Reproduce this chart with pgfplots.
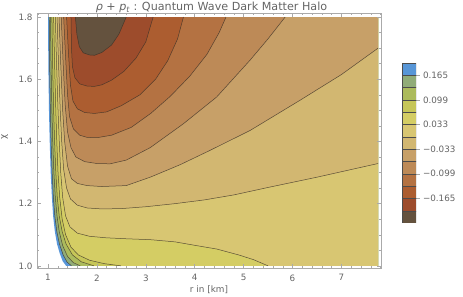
\documentclass[border=0pt]{standalone}
\usepackage{pgfplots}
\pgfplotsset{compat=1.18}
\usepackage{pgfplotstable}
\usepackage{fontspec}
\setmainfont{DejaVu Sans}

\definecolor{c1}{RGB}{88,150,215}
\definecolor{c2}{RGB}{145,172,120}
\definecolor{c3}{RGB}{172,187,92}
\definecolor{c4}{RGB}{198,198,88}
\definecolor{c5}{RGB}{212,205,100}
\definecolor{c6}{RGB}{216,198,114}
\definecolor{c7}{RGB}{210,183,113}
\definecolor{c8}{RGB}{199,160,104}
\definecolor{c9}{RGB}{189,138,87}
\definecolor{c10}{RGB}{180,114,66}
\definecolor{c11}{RGB}{172,93,48}
\definecolor{c12}{RGB}{157,76,44}
\definecolor{c13}{RGB}{100,82,62}
\definecolor{labgray}{RGB}{100,100,100}
\definecolor{framegray}{RGB}{170,170,170}
\definecolor{cline}{RGB}{60,50,40}

% domain edge (left boundary of the plotted region)
\pgfplotstableread{
r chi
1.000 1.80
1.007 1.65
1.020 1.50
1.035 1.40
1.055 1.30
1.080 1.22
1.105 1.16
1.140 1.11
1.185 1.07
1.240 1.04
1.300 1.015
1.370 1.00
}\W
\pgfplotstableread{
r chi
1.025 1.80
1.033 1.65
1.048 1.50
1.063 1.40
1.085 1.30
1.110 1.22
1.140 1.16
1.180 1.11
1.235 1.07
1.310 1.035
1.390 1.012
1.480 1.00
}\Cpa
\pgfplotstableread{
r chi
1.050 1.80
1.062 1.65
1.080 1.50
1.097 1.40
1.120 1.30
1.150 1.22
1.185 1.16
1.230 1.11
1.300 1.065
1.400 1.03
1.520 1.01
1.660 1.00
}\Cpb
\pgfplotstableread{
r chi
1.080 1.80
1.095 1.65
1.115 1.50
1.135 1.40
1.160 1.30
1.190 1.22
1.230 1.16
1.290 1.11
1.370 1.07
1.500 1.035
1.680 1.013
1.940 1.00
}\Cpc
\pgfplotstableread{
r chi
1.115 1.80
1.135 1.65
1.160 1.50
1.180 1.40
1.205 1.30
1.240 1.22
1.290 1.15
1.360 1.10
1.470 1.06
1.620 1.035
1.850 1.018
2.150 1.007
2.490 1.00
}\Cpd
\pgfplotstableread{
r chi
1.150 1.80
1.175 1.65
1.205 1.50
1.230 1.40
1.260 1.30
1.300 1.22
1.360 1.16
1.450 1.125
1.600 1.105
1.850 1.095
2.200 1.090
2.600 1.087
3.100 1.084
3.600 1.077
4.000 1.066
4.450 1.054
4.900 1.035
5.200 1.020
5.500 1.000
}\Cpe
\pgfplotstableread{
r chi
1.185 1.80
1.215 1.65
1.250 1.50
1.280 1.40
1.320 1.31
1.380 1.25
1.460 1.215
1.600 1.195
1.800 1.186
2.100 1.183
2.500 1.184
3.000 1.190
3.600 1.200
4.200 1.212
4.800 1.228
5.500 1.252
6.500 1.285
7.750 1.329
}\Cz
\pgfplotstableread{
r chi
1.225 1.80
1.260 1.65
1.300 1.50
1.340 1.40
1.400 1.32
1.480 1.28
1.600 1.265
1.800 1.258
2.100 1.255
2.600 1.258
3.090 1.285
3.700 1.325
4.310 1.371
5.130 1.435
6.150 1.532
7.000 1.615
7.750 1.700
}\Cma
\pgfplotstableread{
r chi
1.270 1.80
1.310 1.65
1.350 1.52
1.400 1.43
1.470 1.38
1.570 1.35
1.750 1.335
2.000 1.329
2.270 1.328
2.600 1.340
3.090 1.380
3.770 1.457
4.450 1.543
5.130 1.661
5.500 1.730
5.850 1.800
}\Cmb
\pgfplotstableread{
r chi
1.320 1.80
1.360 1.67
1.400 1.55
1.440 1.48
1.520 1.44
1.650 1.42
1.800 1.413
2.000 1.412
2.300 1.420
2.700 1.445
3.100 1.490
3.500 1.545
3.900 1.610
4.250 1.680
4.500 1.750
4.640 1.800
}\Cmc
\pgfplotstableread{
r chi
1.380 1.80
1.420 1.68
1.460 1.58
1.510 1.53
1.600 1.505
1.750 1.493
1.950 1.490
2.200 1.495
2.500 1.515
2.880 1.550
3.200 1.600
3.450 1.660
3.650 1.730
3.770 1.800
}\Cmd
\pgfplotstableread{
r chi
1.470 1.80
1.480 1.70
1.500 1.64
1.550 1.605
1.650 1.585
1.800 1.578
1.950 1.577
2.100 1.582
2.300 1.597
2.550 1.625
2.800 1.668
3.000 1.720
3.150 1.800
}\Cme
\pgfplotstableread{
r chi
1.560 1.80
1.590 1.745
1.640 1.705
1.720 1.685
1.850 1.678
1.950 1.677
2.100 1.686
2.300 1.710
2.450 1.745
2.600 1.800
}\Cmf

\begin{document}
\begin{tikzpicture}
\useasboundingbox (0,0) rectangle (463bp,297bp);
\begin{axis}[
  at={(37bp,29bp)}, anchor=south west,
  scale only axis, width=344bp, height=255bp,
  xmin=0.775, xmax=7.81, ymin=0.993, ymax=1.813,
  axis on top,
  axis line style={draw=framegray, line width=0.5pt},
  tick align=inside,
  xtick={1,2,3,4,5,6,7},
  ytick={1,1.2,1.4,1.6,1.8},
  minor xtick={0.8,1.2,1.4,1.6,1.8,2.2,2.4,2.6,2.8,3.2,3.4,3.6,3.8,4.2,4.4,4.6,4.8,5.2,5.4,5.6,5.8,6.2,6.4,6.6,6.8,7.2,7.4,7.6,7.8},
  minor ytick={1.05,1.1,1.15,1.25,1.3,1.35,1.45,1.5,1.55,1.65,1.7,1.75},
  major tick length=4bp, minor tick length=2.2bp,
  every tick/.style={framegray, line width=0.4pt},
  /pgf/number format/assume math mode=true,
  tick label style={font=\fontsize{8.8}{10}\selectfont, text=labgray},
  yticklabel style={/pgf/number format/fixed, /pgf/number format/fixed zerofill, /pgf/number format/precision=1, xshift=-1bp},
  xticklabel style={yshift=-3bp},
  xlabel={r in [km]},
  xlabel style={at={(axis description cs:0.5,0)}, anchor=base, yshift=-24.5bp, font=\fontsize{8.9}{10}\selectfont, text=labgray},
]
% filled contour bands (sublevel sets, painted from highest to lowest level)
\addplot[fill=c1, draw=none] table {\W} -- (axis cs:7.75,1.0) -- (axis cs:7.75,1.8) -- cycle;
\addplot[fill=c2, draw=none] table {\Cpa} -- (axis cs:7.75,1.0) -- (axis cs:7.75,1.8) -- cycle;
\addplot[fill=c3, draw=none] table {\Cpb} -- (axis cs:7.75,1.0) -- (axis cs:7.75,1.8) -- cycle;
\addplot[fill=c4, draw=none] table {\Cpc} -- (axis cs:7.75,1.0) -- (axis cs:7.75,1.8) -- cycle;
\addplot[fill=c5, draw=none] table {\Cpd} -- (axis cs:7.75,1.0) -- (axis cs:7.75,1.8) -- cycle;
\addplot[fill=c6, draw=none] table {\Cpe} -- (axis cs:7.75,1.0) -- (axis cs:7.75,1.8) -- cycle;
\addplot[fill=c7, draw=none] table {\Cz} -- (axis cs:7.75,1.8) -- cycle;
\addplot[fill=c8, draw=none] table {\Cma} -- (axis cs:7.75,1.8) -- cycle;
\addplot[fill=c9, draw=none] table {\Cmb} -- cycle;
\addplot[fill=c10, draw=none] table {\Cmc} -- cycle;
\addplot[fill=c11, draw=none] table {\Cmd} -- cycle;
\addplot[fill=c12, draw=none] table {\Cme} -- cycle;
\addplot[fill=c13, draw=none] table {\Cmf} -- cycle;
% contour lines
\pgfplotsset{cl/.style={draw=cline, draw opacity=0.8, line width=0.5bp, line join=round}}
\addplot[cl] table {\Cpa};
\addplot[cl] table {\Cpb};
\addplot[cl] table {\Cpc};
\addplot[cl] table {\Cpd};
\addplot[cl] table {\Cpe};
\addplot[cl] table {\Cz};
\addplot[cl] table {\Cma};
\addplot[cl] table {\Cmb};
\addplot[cl] table {\Cmc};
\addplot[cl] table {\Cmd};
\addplot[cl] table {\Cme};
\addplot[cl] table {\Cmf};
\end{axis}

% title and vertical axis label
\node[anchor=base, font=\fontsize{11.2}{13}\selectfont, text=labgray, inner sep=0pt]
  at (211.5bp,286.3bp) {{\itshape ρ} + {\itshape p}\textsubscript{\itshape t} : Quantum Wave Dark Matter Halo};
\node[rotate=90, font=\fontsize{9}{10}\selectfont, text=labgray, inner sep=0pt]
  at (4.5bp,160bp) {χ};

% legend bar
\begin{axis}[
  at={(402bp,74bp)}, anchor=south west,
  scale only axis, width=14bp, height=160bp,
  xmin=0, xmax=1, ymin=-0.231, ymax=0.198,
  axis line style={draw=none},
  xtick=\empty,
  ytick={-0.165,-0.099,-0.033,0.033,0.099,0.165},
  yticklabels={−0.165,−0.099,−0.033,0.033,0.099,0.165},
  ytick pos=right, yticklabel pos=right,
  tick align=outside, major tick length=3.5bp,
  every tick/.style={framegray, line width=0.4pt},
  tick label style={font=\fontsize{8.8}{10}\selectfont, text=labgray},
  yticklabel style={xshift=0bp},
]
\pgfplotsset{cb/.style={draw=black!70, line width=0.3bp}}
\addplot[cb, fill=c13] coordinates {(0,-0.231) (1,-0.231) (1,-0.198) (0,-0.198)} -- cycle;
\addplot[cb, fill=c12] coordinates {(0,-0.198) (1,-0.198) (1,-0.165) (0,-0.165)} -- cycle;
\addplot[cb, fill=c11] coordinates {(0,-0.165) (1,-0.165) (1,-0.132) (0,-0.132)} -- cycle;
\addplot[cb, fill=c10] coordinates {(0,-0.132) (1,-0.132) (1,-0.099) (0,-0.099)} -- cycle;
\addplot[cb, fill=c9] coordinates {(0,-0.099) (1,-0.099) (1,-0.066) (0,-0.066)} -- cycle;
\addplot[cb, fill=c8] coordinates {(0,-0.066) (1,-0.066) (1,-0.033) (0,-0.033)} -- cycle;
\addplot[cb, fill=c7] coordinates {(0,-0.033) (1,-0.033) (1,0) (0,0)} -- cycle;
\addplot[cb, fill=c6] coordinates {(0,0) (1,0) (1,0.033) (0,0.033)} -- cycle;
\addplot[cb, fill=c5] coordinates {(0,0.033) (1,0.033) (1,0.066) (0,0.066)} -- cycle;
\addplot[cb, fill=c4] coordinates {(0,0.066) (1,0.066) (1,0.099) (0,0.099)} -- cycle;
\addplot[cb, fill=c3] coordinates {(0,0.099) (1,0.099) (1,0.132) (0,0.132)} -- cycle;
\addplot[cb, fill=c2] coordinates {(0,0.132) (1,0.132) (1,0.165) (0,0.165)} -- cycle;
\addplot[cb, fill=c1] coordinates {(0,0.165) (1,0.165) (1,0.198) (0,0.198)} -- cycle;
\end{axis}
\end{tikzpicture}
\end{document}
